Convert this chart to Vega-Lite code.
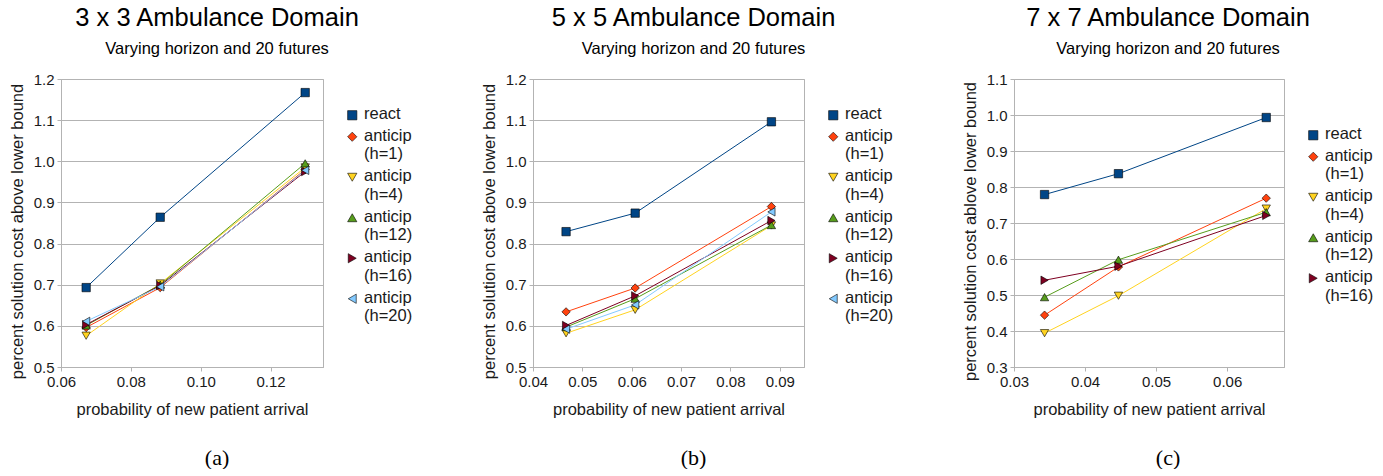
{
  "$schema": "https://vega.github.io/schema/vega-lite/v6.json",
  "background": "white",
  "padding": {"left": 8, "top": 5, "right": 5, "bottom": 0},
  "config": {
    "font": "Liberation Sans",
    "view": {"stroke": "#b3b3b3", "strokeWidth": 1},
    "axis": {"labelFont": "Liberation Sans", "labelFontSize": 15, "labelColor": "#1a1a1a", "titleFont": "Liberation Sans", "titleFontSize": 16.5, "titleFontWeight": "normal", "titleColor": "#1a1a1a", "domainColor": "#b3b3b3", "tickColor": "#b3b3b3", "tickSize": 4, "gridColor": "#b3b3b3", "labelPadding": 3, "labelFlush": false},
    "axisX": {"grid": false, "titlePadding": 12},
    "axisY": {"grid": true, "titlePadding": 8, "titleY": 152},
    "concat": {"spacing": 66}
  },
  "datasets": {
    "a": [
      {"series": "react", "p": 0.0672, "cost": 0.693},
      {"series": "react", "p": 0.0884, "cost": 0.864},
      {"series": "react", "p": 0.1299, "cost": 1.167},
      {"series": "anticip (h=1)", "p": 0.0672, "cost": 0.596},
      {"series": "anticip (h=1)", "p": 0.0884, "cost": 0.693},
      {"series": "anticip (h=1)", "p": 0.1299, "cost": 0.980},
      {"series": "anticip (h=4)", "p": 0.0672, "cost": 0.576},
      {"series": "anticip (h=4)", "p": 0.0884, "cost": 0.703},
      {"series": "anticip (h=4)", "p": 0.1299, "cost": 0.985},
      {"series": "anticip (h=12)", "p": 0.0672, "cost": 0.601},
      {"series": "anticip (h=12)", "p": 0.0884, "cost": 0.700},
      {"series": "anticip (h=12)", "p": 0.1299, "cost": 0.995},
      {"series": "anticip (h=16)", "p": 0.0672, "cost": 0.603},
      {"series": "anticip (h=16)", "p": 0.0884, "cost": 0.698},
      {"series": "anticip (h=16)", "p": 0.1299, "cost": 0.975},
      {"series": "anticip (h=20)", "p": 0.0672, "cost": 0.611},
      {"series": "anticip (h=20)", "p": 0.0884, "cost": 0.695},
      {"series": "anticip (h=20)", "p": 0.1299, "cost": 0.978}
    ],
    "b": [
      {"series": "react", "p": 0.0467, "cost": 0.829},
      {"series": "react", "p": 0.0607, "cost": 0.874},
      {"series": "react", "p": 0.0883, "cost": 1.096},
      {"series": "anticip (h=1)", "p": 0.0467, "cost": 0.634},
      {"series": "anticip (h=1)", "p": 0.0607, "cost": 0.692},
      {"series": "anticip (h=1)", "p": 0.0883, "cost": 0.890},
      {"series": "anticip (h=4)", "p": 0.0467, "cost": 0.582},
      {"series": "anticip (h=4)", "p": 0.0607, "cost": 0.639},
      {"series": "anticip (h=4)", "p": 0.0883, "cost": 0.844},
      {"series": "anticip (h=12)", "p": 0.0467, "cost": 0.597},
      {"series": "anticip (h=12)", "p": 0.0607, "cost": 0.666},
      {"series": "anticip (h=12)", "p": 0.0883, "cost": 0.845},
      {"series": "anticip (h=16)", "p": 0.0467, "cost": 0.601},
      {"series": "anticip (h=16)", "p": 0.0607, "cost": 0.673},
      {"series": "anticip (h=16)", "p": 0.0883, "cost": 0.856},
      {"series": "anticip (h=20)", "p": 0.0467, "cost": 0.592},
      {"series": "anticip (h=20)", "p": 0.0607, "cost": 0.651},
      {"series": "anticip (h=20)", "p": 0.0883, "cost": 0.877}
    ],
    "c": [
      {"series": "react", "p": 0.0343, "cost": 0.779},
      {"series": "react", "p": 0.0447, "cost": 0.837},
      {"series": "react", "p": 0.0655, "cost": 0.993},
      {"series": "anticip (h=1)", "p": 0.0343, "cost": 0.444},
      {"series": "anticip (h=1)", "p": 0.0447, "cost": 0.578},
      {"series": "anticip (h=1)", "p": 0.0655, "cost": 0.769},
      {"series": "anticip (h=4)", "p": 0.0343, "cost": 0.394},
      {"series": "anticip (h=4)", "p": 0.0447, "cost": 0.498},
      {"series": "anticip (h=4)", "p": 0.0655, "cost": 0.740},
      {"series": "anticip (h=12)", "p": 0.0343, "cost": 0.494},
      {"series": "anticip (h=12)", "p": 0.0447, "cost": 0.598},
      {"series": "anticip (h=12)", "p": 0.0655, "cost": 0.730},
      {"series": "anticip (h=16)", "p": 0.0343, "cost": 0.541},
      {"series": "anticip (h=16)", "p": 0.0447, "cost": 0.580},
      {"series": "anticip (h=16)", "p": 0.0655, "cost": 0.721}
    ]
  },
  "hconcat": [
    {
      "title": {"text": "(a)", "orient": "bottom", "font": "Liberation Serif", "fontSize": 22, "fontWeight": "normal", "color": "#000", "offset": 30, "frame": "bounds", "anchor": "middle", "dx": 6},
      "resolve": {"scale": {"shape": "independent", "color": "independent"}, "legend": {"shape": "independent", "color": "independent"}},
      "vconcat": [
        {
          "width": 262, "height": 288,
          "data": {"name": "a"},
          "title": {"text": "3 x 3 Ambulance Domain", "subtitle": "Varying horizon and 20 futures", "font": "Liberation Sans", "subtitleFont": "Liberation Sans", "fontSize": 25.5, "fontWeight": "normal", "subtitleFontSize": 16.5, "subtitlePadding": 10, "offset": 14.5, "anchor": "middle", "frame": "bounds", "color": "#000", "subtitleColor": "#000", "dx": 6},
          "encoding": {
            "x": {"field": "p", "type": "quantitative", "scale": {"domain": [0.06, 0.135], "nice": false, "zero": false}, "axis": {"values": [0.06, 0.08, 0.10, 0.12], "format": ".2f", "title": "probability of new patient arrival"}},
            "y": {"field": "cost", "type": "quantitative", "scale": {"domain": [0.5, 1.2], "nice": false, "zero": false}, "axis": {"values": [0.5, 0.6, 0.7, 0.8, 0.9, 1.0, 1.1, 1.2], "format": ".1f", "title": "percent solution cost above lower bound"}}
          },
          "resolve": {"scale": {"color": "independent", "shape": "independent"}, "legend": {"color": "independent", "shape": "independent"}},
          "layer": [
            {"mark": {"type": "line", "strokeWidth": 1}, "encoding": {"color": {"field": "series", "type": "nominal", "scale": {"domain": ["react", "anticip (h=1)", "anticip (h=4)", "anticip (h=12)", "anticip (h=16)", "anticip (h=20)"], "range": ["#004586", "#ff420e", "#ffd320", "#579d1c", "#7e0021", "#83caff"]}, "legend": null}}},
            {"mark": {"type": "point", "filled": true, "opacity": 1, "stroke": "#000", "strokeWidth": 0.6, "size": 70}, "encoding": {
              "color": {"field": "series", "type": "nominal", "scale": {"domain": ["react", "anticip (h=1)", "anticip (h=4)", "anticip (h=12)", "anticip (h=16)", "anticip (h=20)"], "range": ["#004586", "#ff420e", "#ffd320", "#579d1c", "#7e0021", "#83caff"]},
                "legend": {"title": " ", "titleFontSize": 13, "titlePadding": 15, "orient": "right", "offset": 21, "padding": 0, "symbolSize": 85, "symbolStrokeWidth": 0.6, "symbolStrokeColor": "#000", "labelFontSize": 16.5, "labelColor": "#1a1a1a", "labelOffset": 3.5, "labelBaseline": "top", "rowPadding": 4.5, "labelExpr": "split(datum.label, ' ')",
                  "encoding": {"labels": {"dy": {"value": -9}, "lineHeight": {"value": 18.5}}}}},
              "shape": {"field": "series", "type": "nominal", "scale": {"domain": ["react", "anticip (h=1)", "anticip (h=4)", "anticip (h=12)", "anticip (h=16)", "anticip (h=20)"], "range": ["square", "diamond", "triangle-down", "triangle-up", "triangle-right", "triangle-left"]}, "legend": null}}}
          ]
        }
      ]
    },
    {
      "title": {"text": "(b)", "orient": "bottom", "font": "Liberation Serif", "fontSize": 22, "fontWeight": "normal", "color": "#000", "offset": 30, "frame": "bounds", "anchor": "middle", "dx": 6},
      "resolve": {"scale": {"shape": "independent", "color": "independent"}, "legend": {"shape": "independent", "color": "independent"}},
      "vconcat": [
        {
          "width": 271, "height": 288,
          "data": {"name": "b"},
          "title": {"text": "5 x 5 Ambulance Domain", "subtitle": "Varying horizon and 20 futures", "font": "Liberation Sans", "subtitleFont": "Liberation Sans", "fontSize": 25.5, "fontWeight": "normal", "subtitleFontSize": 16.5, "subtitlePadding": 10, "offset": 14.5, "anchor": "middle", "frame": "bounds", "color": "#000", "subtitleColor": "#000", "dx": 6},
          "encoding": {
            "x": {"field": "p", "type": "quantitative", "scale": {"domain": [0.04, 0.0949], "nice": false, "zero": false}, "axis": {"values": [0.04, 0.05, 0.06, 0.07, 0.08, 0.09], "format": ".2f", "title": "probability of new patient arrival"}},
            "y": {"field": "cost", "type": "quantitative", "scale": {"domain": [0.5, 1.2], "nice": false, "zero": false}, "axis": {"values": [0.5, 0.6, 0.7, 0.8, 0.9, 1.0, 1.1, 1.2], "format": ".1f", "title": "percent solution cost above lower bound"}}
          },
          "resolve": {"scale": {"color": "independent", "shape": "independent"}, "legend": {"color": "independent", "shape": "independent"}},
          "layer": [
            {"mark": {"type": "line", "strokeWidth": 1}, "encoding": {"color": {"field": "series", "type": "nominal", "scale": {"domain": ["react", "anticip (h=1)", "anticip (h=4)", "anticip (h=12)", "anticip (h=16)", "anticip (h=20)"], "range": ["#004586", "#ff420e", "#ffd320", "#579d1c", "#7e0021", "#83caff"]}, "legend": null}}},
            {"mark": {"type": "point", "filled": true, "opacity": 1, "stroke": "#000", "strokeWidth": 0.6, "size": 70}, "encoding": {
              "color": {"field": "series", "type": "nominal", "scale": {"domain": ["react", "anticip (h=1)", "anticip (h=4)", "anticip (h=12)", "anticip (h=16)", "anticip (h=20)"], "range": ["#004586", "#ff420e", "#ffd320", "#579d1c", "#7e0021", "#83caff"]},
                "legend": {"title": " ", "titleFontSize": 13, "titlePadding": 15, "orient": "right", "offset": 21, "padding": 0, "symbolSize": 85, "symbolStrokeWidth": 0.6, "symbolStrokeColor": "#000", "labelFontSize": 16.5, "labelColor": "#1a1a1a", "labelOffset": 3.5, "labelBaseline": "top", "rowPadding": 4.5, "labelExpr": "split(datum.label, ' ')",
                  "encoding": {"labels": {"dy": {"value": -9}, "lineHeight": {"value": 18.5}}}}},
              "shape": {"field": "series", "type": "nominal", "scale": {"domain": ["react", "anticip (h=1)", "anticip (h=4)", "anticip (h=12)", "anticip (h=16)", "anticip (h=20)"], "range": ["square", "diamond", "triangle-down", "triangle-up", "triangle-right", "triangle-left"]}, "legend": null}}}
          ]
        }
      ]
    },
    {
      "title": {"text": "(c)", "orient": "bottom", "font": "Liberation Serif", "fontSize": 22, "fontWeight": "normal", "color": "#000", "offset": 30, "frame": "bounds", "anchor": "middle"},
      "resolve": {"scale": {"shape": "independent", "color": "independent"}, "legend": {"shape": "independent", "color": "independent"}},
      "vconcat": [
        {
          "width": 270, "height": 288,
          "data": {"name": "c"},
          "title": {"text": "7 x 7 Ambulance Domain", "subtitle": "Varying horizon and 20 futures", "font": "Liberation Sans", "subtitleFont": "Liberation Sans", "fontSize": 25.5, "fontWeight": "normal", "subtitleFontSize": 16.5, "subtitlePadding": 10, "offset": 14.5, "anchor": "middle", "frame": "bounds", "color": "#000", "subtitleColor": "#000"},
          "encoding": {
            "x": {"field": "p", "type": "quantitative", "scale": {"domain": [0.03, 0.068], "nice": false, "zero": false}, "axis": {"values": [0.03, 0.04, 0.05, 0.06], "format": ".2f", "title": "probability of new patient arrival"}},
            "y": {"field": "cost", "type": "quantitative", "scale": {"domain": [0.3, 1.1], "nice": false, "zero": false}, "axis": {"values": [0.3, 0.4, 0.5, 0.6, 0.7, 0.8, 0.9, 1.0, 1.1], "format": ".1f", "title": "percent solution cost ablove lower bound"}}
          },
          "resolve": {"scale": {"color": "independent", "shape": "independent"}, "legend": {"color": "independent", "shape": "independent"}},
          "layer": [
            {"mark": {"type": "line", "strokeWidth": 1}, "encoding": {"color": {"field": "series", "type": "nominal", "scale": {"domain": ["react", "anticip (h=1)", "anticip (h=4)", "anticip (h=12)", "anticip (h=16)"], "range": ["#004586", "#ff420e", "#ffd320", "#579d1c", "#7e0021"]}, "legend": null}}},
            {"mark": {"type": "point", "filled": true, "opacity": 1, "stroke": "#000", "strokeWidth": 0.6, "size": 70}, "encoding": {
              "color": {"field": "series", "type": "nominal", "scale": {"domain": ["react", "anticip (h=1)", "anticip (h=4)", "anticip (h=12)", "anticip (h=16)"], "range": ["#004586", "#ff420e", "#ffd320", "#579d1c", "#7e0021"]},
                "legend": {"title": " ", "titleFontSize": 13, "titlePadding": 35, "orient": "right", "offset": 21, "padding": 0, "symbolSize": 85, "symbolStrokeWidth": 0.6, "symbolStrokeColor": "#000", "labelFontSize": 16.5, "labelColor": "#1a1a1a", "labelOffset": 3.5, "labelBaseline": "top", "rowPadding": 4.5, "labelExpr": "split(datum.label, ' ')",
                  "encoding": {"labels": {"dy": {"value": -9}, "lineHeight": {"value": 18.5}}}}},
              "shape": {"field": "series", "type": "nominal", "scale": {"domain": ["react", "anticip (h=1)", "anticip (h=4)", "anticip (h=12)", "anticip (h=16)"], "range": ["square", "diamond", "triangle-down", "triangle-up", "triangle-right"]}, "legend": null}}}
          ]
        }
      ]
    }
  ],
  "resolve": {"scale": {"x": "independent", "y": "independent", "shape": "independent", "color": "independent"}, "legend": {"shape": "independent", "color": "independent"}}
}
